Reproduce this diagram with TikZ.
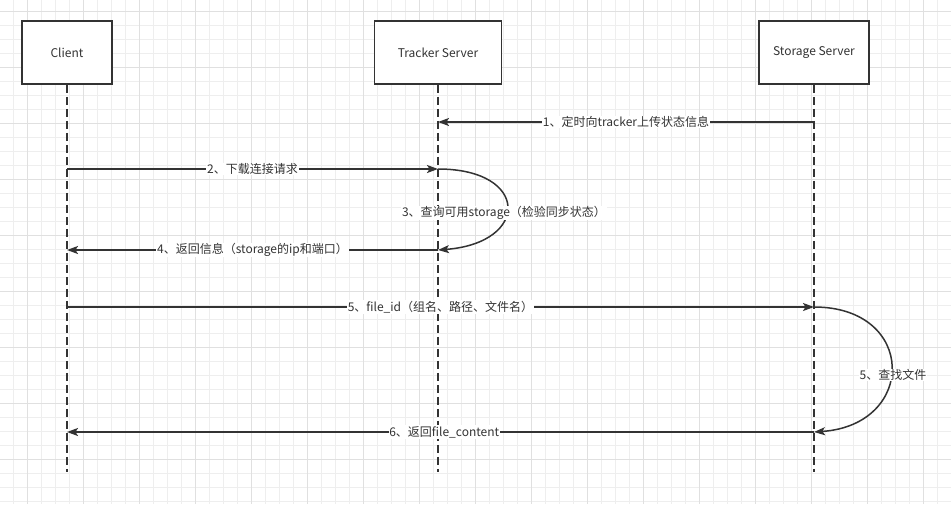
\documentclass[tikz,border=0pt]{standalone}
\usepackage{fontspec}
\setmainfont{Noto Sans CJK SC}
\usetikzlibrary{arrows.meta}
\definecolor{ln}{HTML}{333333}
\definecolor{gridminor}{HTML}{EEEEEE}
\definecolor{gridmajor}{HTML}{E0E0E0}
\tikzset{
  gminor/.style={draw=gridminor, line width=0.9pt},
  gmajor/.style={draw=gridmajor, line width=0.9pt},
  actor/.style={draw=ln, line width=1.8pt, fill=white, minimum height=63pt, inner sep=0pt, font=\fontsize{12}{14}\selectfont, text=ln},
  life/.style={draw=ln, line width=1.8pt, dash pattern=on 8pt off 4pt},
  msg/.style={draw=ln, line width=1.5pt, -{Stealth[length=11pt,width=8pt,inset=2.5pt]}},
  lbl/.style={fill=white, inner sep=0.8pt, font=\fontsize{12}{14}\selectfont, text=ln},
}
\begin{document}
\begin{tikzpicture}[x=1pt,y=-1pt]
\useasboundingbox (0,0) rectangle (951,504);
\fill[white] (0,0) rectangle (951,504);
% grid
\foreach \i in {0,...,67} \draw[gminor] ({13.7+14*\i},0) -- ++(0,504);
\foreach \j in {0,...,35} \draw[gminor] (0,{11.3+14*\j}) -- ++(951,0);
\foreach \i in {0,...,16} \draw[gmajor] ({27.7+56*\i},0) -- ++(0,504);
\foreach \j in {0,...,8} \draw[gmajor] (0,{11.3+56*\j}) -- ++(951,0);
% actors
\node[actor, minimum width=90pt] (client) at (67,52.5) {Client};
\node[actor, minimum width=127pt] (tracker) at (438,52.5) {Tracker Server};
\node[actor, minimum width=110pt] (storage) at (814,52.5) {Storage Server};
% lifelines
\coordinate (clientEnd) at (67,472);
\coordinate (trackerEnd) at (438,472);
\coordinate (storageEnd) at (814,472);
\draw[life] (client.south) -- (clientEnd);
\draw[life] (tracker.south) -- (trackerEnd);
\draw[life] (storage.south) -- (storageEnd);
% message points
\coordinate (s1) at (814,122);
\coordinate (t1) at (438,122);
\coordinate (c2) at (67,169);
\coordinate (t2) at (438,169);
\coordinate (t4) at (438,250);
\coordinate (c4) at (67,250);
\coordinate (c5) at (67,307);
\coordinate (s5) at (814,307);
\coordinate (s6) at (814,432);
\coordinate (c6) at (67,432);
% messages
\draw[msg] (s1) -- node[lbl] (l1) {1、定时向tracker上传状态信息} (t1);
\draw[msg] (c2) -- node[lbl] (l2) {2、下载连接请求} (t2);
\draw[msg] (t2) .. controls (530,169) and (530,243) .. (t4);
\node[lbl] (l3) at (504,213) {3、查询可用storage（检验同步状态）};
\draw[msg] (t4) -- node[lbl] (l4) {4、返回信息（storage的ip和端口）} (c4);
\draw[msg] (c5) -- node[lbl] (l5) {5、file\_id（组名、路径、文件名）} (s5);
\draw[msg] (s5) .. controls (917,307) and (917,425) .. (s6);
\node[lbl] (l5b) at (893,375) {5、查找文件};
\draw[msg] (s6) -- node[lbl, pos=0.495] (l6) {6、返回file\_content} (c6);
\end{tikzpicture}
\end{document}
